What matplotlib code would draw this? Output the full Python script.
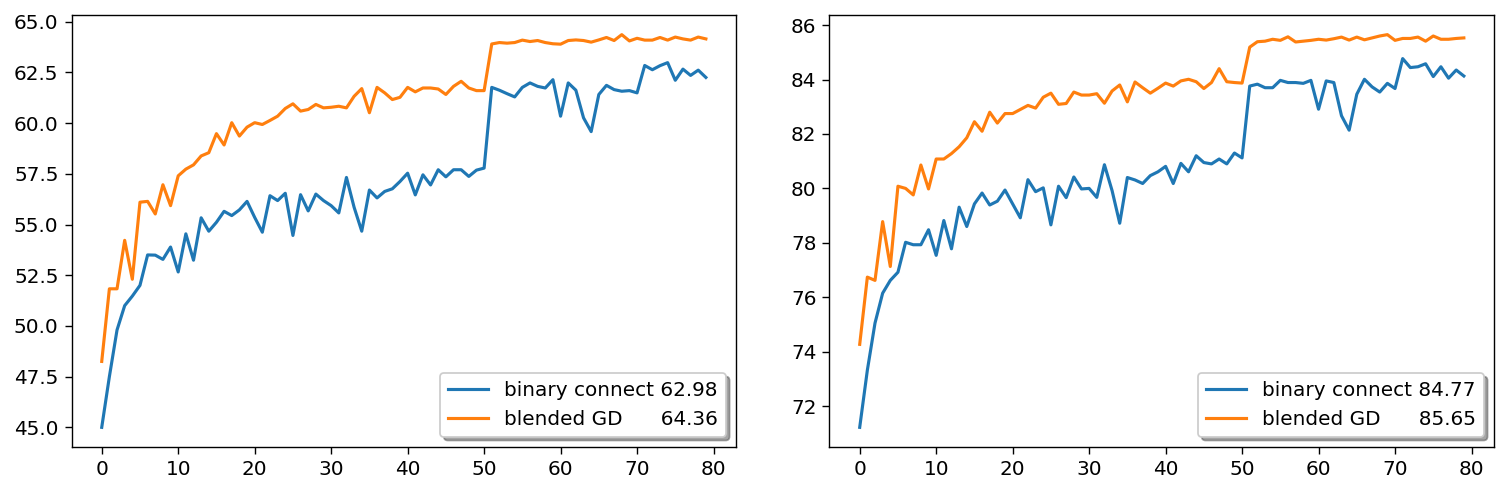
import numpy as np
import matplotlib
matplotlib.use("Agg")
import matplotlib.pyplot as plt

epochs = np.arange(80)

# left panel
left_binary = [45.0, 47.5, 49.8, 51.0, 51.47, 52.0, 53.5, 53.49, 53.28, 53.89,
               52.66, 54.54, 53.24, 55.33, 54.67, 55.11, 55.65, 55.44, 55.72, 56.14,
               55.35, 54.62, 56.42, 56.18, 56.54, 54.46, 56.47, 55.67, 56.5, 56.18,
               55.93, 55.57, 57.32, 55.85, 54.67, 56.70, 56.31, 56.63, 56.76, 57.12,
               57.53, 56.46, 57.45, 56.95, 57.70, 57.35, 57.70, 57.70, 57.37, 57.68,
               57.78, 61.76, 61.62, 61.45, 61.29, 61.76, 61.98, 61.81, 61.73, 62.14,
               60.34, 61.98, 61.62, 60.26, 59.58, 61.41, 61.86, 61.65, 61.57, 61.60,
               61.49, 62.84, 62.63, 62.83, 62.98, 62.11, 62.66, 62.35, 62.61, 62.25]
left_blended = [48.25, 51.83, 51.83, 54.22, 52.30, 56.10, 56.14, 55.52, 56.96, 55.93,
                57.40, 57.73, 57.94, 58.38, 58.54, 59.48, 58.92, 60.02, 59.36, 59.80,
                60.02, 59.93, 60.13, 60.34, 60.72, 60.95, 60.59, 60.67, 60.92, 60.75,
                60.78, 60.83, 60.75, 61.32, 61.70, 60.51, 61.76, 61.49, 61.16, 61.27,
                61.76, 61.54, 61.73, 61.73, 61.68, 61.41, 61.81, 62.06, 61.73, 61.60,
                61.60, 63.90, 63.97, 63.94, 63.97, 64.09, 64.02, 64.07, 63.97, 63.91,
                63.89, 64.07, 64.10, 64.07, 63.99, 64.10, 64.22, 64.07, 64.36, 64.05,
                64.18, 64.09, 64.09, 64.22, 64.09, 64.24, 64.15, 64.09, 64.24, 64.15]

# right panel
right_binary = [71.22, 73.32, 75.05, 76.15, 76.62, 76.92, 78.02, 77.93, 77.93, 78.48,
                77.54, 78.82, 77.78, 79.31, 78.60, 79.43, 79.83, 79.39, 79.53, 79.94,
                79.43, 78.92, 80.32, 79.88, 80.02, 78.66, 80.08, 79.66, 80.42, 79.98,
                80.00, 79.67, 80.87, 79.92, 78.72, 80.40, 80.31, 80.18, 80.47, 80.61,
                80.81, 80.18, 80.92, 80.61, 81.20, 80.95, 80.90, 81.08, 80.90, 81.30,
                81.12, 83.76, 83.83, 83.70, 83.70, 83.97, 83.89, 83.89, 83.86, 83.97,
                82.91, 83.95, 83.89, 82.67, 82.14, 83.46, 84.01, 83.73, 83.54, 83.86,
                83.67, 84.77, 84.44, 84.47, 84.58, 84.11, 84.47, 84.05, 84.35, 84.13]
right_blended = [74.27, 76.74, 76.62, 78.78, 77.13, 80.08, 80.00, 79.76, 80.86, 79.98,
                 81.08, 81.08, 81.28, 81.53, 81.86, 82.45, 82.10, 82.80, 82.40, 82.75,
                 82.75, 82.90, 83.05, 82.95, 83.35, 83.50, 83.09, 83.12, 83.54, 83.43,
                 83.43, 83.48, 83.13, 83.58, 83.80, 83.18, 83.91, 83.70, 83.50, 83.68,
                 83.87, 83.76, 83.95, 84.01, 83.92, 83.67, 83.89, 84.40, 83.92, 83.89,
                 83.87, 85.19, 85.39, 85.41, 85.48, 85.44, 85.57, 85.38, 85.41, 85.44,
                 85.48, 85.45, 85.50, 85.56, 85.45, 85.56, 85.46, 85.53, 85.60, 85.65,
                 85.44, 85.51, 85.51, 85.56, 85.41, 85.60, 85.48, 85.48, 85.51, 85.53]

plt.rcParams["font.size"] = 11.5
plt.rcParams["lines.linewidth"] = 1.8
plt.rcParams["xtick.major.size"] = 4
plt.rcParams["ytick.major.size"] = 4

fig = plt.figure(figsize=(1509 / 125, 492 / 125), dpi=125)
ax1 = fig.add_axes([0.0474, 0.0915, 0.4404, 0.878])
ax2 = fig.add_axes([0.5497, 0.0915, 0.4404, 0.878])

def draw(ax, binary, blended):
    ax.plot(epochs, binary, label="binary connect %.2f" % max(binary))
    ax.plot(epochs, blended, label="blended GD      %.2f" % max(blended))
    ax.set_xticks([0, 10, 20, 30, 40, 50, 60, 70, 80])
    ax.legend(loc="lower right", shadow=True)

draw(ax1, left_binary, left_blended)
draw(ax2, right_binary, right_blended)

fig.savefig("out.png", dpi=125)
